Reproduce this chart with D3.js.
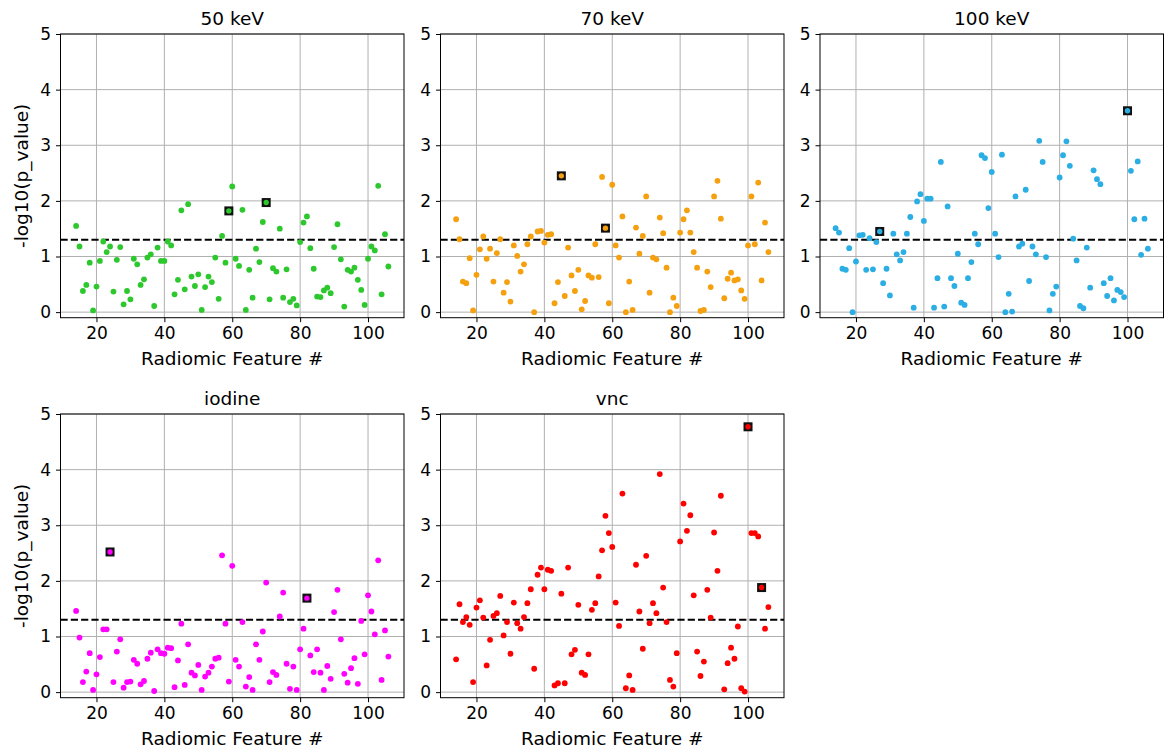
<!DOCTYPE html>
<html>
<head>
<meta charset="utf-8">
<script src="https://cdn.jsdelivr.net/npm/d3@7"></script>
<style>
  body { margin: 0; background: #fff; }
  svg { font-family: "DejaVu Sans", sans-serif; }
</style>
</head>
<body>
<div id="chart"></div>
<script>
// radiomic feature numbers (x categories)
const features = [14, 15, 16, 17, 18, 19, 20, 21, 22, 23, 24, 25, 26, 27, 28, 29, 30, 31, 32, 33,
  34, 35, 36, 37, 38, 39, 40, 41, 42, 43, 44, 45, 46, 47, 48, 49, 50, 51, 52, 53,
  54, 55, 56, 57, 58, 59, 60, 61, 62, 63, 64, 65, 66, 67, 68, 69, 70, 71, 72, 73,
  74, 75, 76, 77, 78, 79, 80, 81, 82, 83, 84, 85, 86, 87, 88, 89, 90, 91, 92, 93,
  94, 95, 96, 97, 98, 99, 100, 101, 102, 103, 104, 105, 106];

// -log10(p_value) per feature
const kev50 = [1.55, 1.18, 0.38, 0.49, 0.89, 0.03, 0.46, 0.92, 1.27, 1.08,
  1.18, 0.37, 0.94, 1.17, 0.14, 0.38, 0.23, 0.96, 0.86, 0.49,
  0.59, 0.98, 1.04, 0.11, 1.16, 0.92, 0.92, 1.27, 1.2, 0.32,
  0.58, 1.83, 0.41, 1.94, 0.64, 0.47, 0.68, 0.04, 0.45, 0.64,
  0.54, 0.98, 0.24, 1.37, 0.89, 1.82, 2.26, 0.96, 0.83, 1.84,
  0.04, 0.76, 0.26, 1.14, 0.9, 1.62, 1.97, 0.23, 0.79, 0.73,
  1.5, 0.26, 0.77, 0.18, 0.24, 0.12, 1.26, 1.61, 1.72, 1.15,
  0.78, 0.28, 0.27, 0.39, 0.44, 0.34, 1.17, 1.58, 0.95, 0.1,
  0.76, 0.73, 0.8, 0.58, 0.4, 0.13, 0.96, 1.18, 1.11, 2.27,
  0.32, 1.4, 0.82];

const kev70 = [1.67, 1.31, 0.55, 0.52, 0.97, 0.03, 0.67, 1.13, 1.36, 0.96,
  1.14, 0.55, 1.06, 1.31, 0.35, 0.54, 0.19, 1.2, 1.01, 0.73,
  0.86, 1.22, 1.36, 0.0, 1.45, 1.46, 1.25, 1.39, 1.4, 0.16,
  0.54, 2.45, 0.29, 1.16, 0.66, 0.38, 0.76, 0.05, 0.2, 0.66,
  0.62, 1.22, 0.63, 2.43, 1.51, 0.16, 2.29, 1.2, 0.98, 1.72,
  0.0, 0.55, 0.04, 1.52, 1.05, 1.37, 2.08, 0.35, 0.98, 0.95,
  1.7, 1.42, 0.8, 0.0, 0.26, 0.11, 1.43, 1.67, 1.83, 1.43,
  1.08, 0.8, 0.02, 0.04, 0.73, 0.45, 2.08, 2.36, 1.68, 0.25,
  0.6, 0.71, 0.57, 0.59, 0.39, 0.24, 1.2, 2.08, 1.22, 2.33,
  0.57, 1.61, 1.08];

const kev100 = [1.51, 1.43, 0.78, 0.76, 1.15, 0.0, 0.91, 1.38, 1.39, 0.76,
  1.33, 0.77, 1.26, 1.45, 0.52, 0.78, 0.3, 1.41, 1.04, 0.93,
  1.08, 1.41, 1.71, 0.08, 1.99, 2.12, 1.64, 2.04, 2.04, 0.08,
  0.61, 2.7, 0.1, 1.9, 0.61, 0.47, 1.05, 0.17, 0.13, 0.61,
  0.9, 1.41, 1.22, 2.82, 2.77, 1.87, 2.52, 1.41, 0.99, 2.83,
  0.0, 0.33, 0.01, 2.08, 1.18, 1.23, 2.2, 0.56, 1.18, 1.04,
  3.08, 2.7, 0.99, 0.03, 0.33, 0.46, 2.42, 2.82, 3.07, 2.63,
  1.32, 0.93, 0.11, 0.07, 1.16, 0.44, 2.55, 2.39, 2.3, 0.52,
  0.29, 0.61, 0.21, 0.4, 0.36, 0.27, 3.62, 2.54, 1.67, 2.71,
  1.03, 1.68, 1.14];

const iodine = [1.46, 0.98, 0.18, 0.37, 0.7, 0.04, 0.32, 0.63, 1.13, 1.13,
  2.52, 0.18, 0.73, 0.95, 0.08, 0.18, 0.19, 0.58, 0.51, 0.14,
  0.2, 0.6, 0.71, 0.02, 0.77, 0.7, 0.69, 0.8, 0.79, 0.09,
  0.57, 1.23, 0.13, 0.86, 0.35, 0.3, 0.49, 0.04, 0.28, 0.35,
  0.46, 0.6, 0.62, 2.46, 1.23, 0.19, 2.27, 0.58, 0.46, 1.26,
  0.1, 0.27, 0.04, 0.86, 0.58, 1.09, 1.97, 0.18, 0.36, 0.31,
  1.36, 1.79, 0.51, 0.06, 0.46, 0.04, 0.77, 1.14, 1.69, 0.66,
  0.36, 0.77, 0.35, 0.04, 0.47, 0.24, 1.44, 1.84, 0.95, 0.33,
  0.17, 0.43, 0.61, 0.15, 1.28, 0.68, 1.74, 1.45, 1.04, 2.37,
  0.22, 1.11, 0.64];

const vnc = [0.59, 1.58, 1.26, 1.35, 1.21, 0.18, 1.52, 1.65, 1.34, 0.48,
  0.94, 1.37, 1.42, 1.73, 1.02, 1.26, 0.69, 1.61, 1.24, 1.14,
  1.35, 1.6, 1.85, 0.42, 2.11, 2.24, 1.85, 2.2, 2.18, 0.12,
  0.16, 1.77, 0.16, 2.24, 0.68, 0.76, 1.57, 0.35, 0.31, 0.68,
  1.48, 1.6, 2.08, 2.55, 3.17, 2.86, 2.61, 1.61, 1.19, 3.57,
  0.07, 0.3, 0.04, 2.29, 1.45, 0.78, 2.45, 1.24, 1.6, 1.42,
  3.92, 1.88, 1.26, 0.22, 0.1, 0.7, 2.71, 3.39, 2.9, 3.18,
  1.74, 0.73, 0.29, 0.55, 1.84, 1.34, 2.87, 2.18, 3.53, 0.05,
  0.52, 0.8, 0.6, 1.18, 0.07, 0.01, 4.77, 2.86, 2.86, 2.8,
  1.88, 1.14, 1.53];

// features highlighted with a black square
const marked50 = [59, 70];
const marked70 = [45, 58];
const marked100 = [27, 100];
const markedIodine = [24, 82];
const markedVnc = [100, 104];

const titles = ["50 keV", "70 keV", "100 keV", "iodine", "vnc"];
const xTicks = [20, 40, 60, 80, 100];
const yTicks = [0, 1, 2, 3, 4, 5];
const threshold = 1.3;

var panels = [
  { title: titles[0], values: kev50, marked: marked50, color: "#2dc82d", row: 0, col: 0 },
  { title: titles[1], values: kev70, marked: marked70, color: "#f5a00f", row: 0, col: 1 },
  { title: titles[2], values: kev100, marked: marked100, color: "#2aaee3", row: 0, col: 2 },
  { title: titles[3], values: iodine, marked: markedIodine, color: "#ff00ff", row: 1, col: 0 },
  { title: titles[4], values: vnc, marked: markedVnc, color: "#ff0000", row: 1, col: 1 }
];

var W = 1164, H = 754;
var colLeft = [60.5, 440.5, 820], rowTop = [34, 414];
var pw = 343.5, ph = 283.7;

var svg = d3.select("#chart").append("svg")
  .attr("width", W).attr("height", H);

// same limits as matplotlib would pick (5% margin on x)
var x = d3.scaleLinear().domain([9.4, 110.6]).range([0, pw]);
var y = d3.scaleLinear().domain([-0.1, 5]).range([ph, 0]);

panels.forEach(function (p) {
  var g = svg.append("g")
    .attr("transform", `translate(${colLeft[p.col]},${rowTop[p.row]})`);

  // grid
  g.selectAll(".vgrid").data(xTicks).enter().append("line")
    .attr("x1", d => x(d)).attr("x2", d => x(d))
    .attr("y1", 0).attr("y2", ph)
    .style("stroke", "#b0b0b0").style("stroke-width", 1);
  g.selectAll(".hgrid").data(yTicks).enter().append("line")
    .attr("x1", 0).attr("x2", pw)
    .attr("y1", d => y(d)).attr("y2", d => y(d))
    .style("stroke", "#b0b0b0").style("stroke-width", 1);

  // significance threshold
  g.append("line")
    .attr("x1", 0).attr("x2", pw)
    .attr("y1", y(threshold)).attr("y2", y(threshold))
    .style("stroke", "#000").style("stroke-width", 2)
    .style("stroke-dasharray", "7.2,3.1");

  var pts = features.map((f, i) => ({ f: f, v: p.values[i] }));

  g.selectAll(".dot").data(pts).enter().append("circle")
    .attr("cx", d => x(d.f)).attr("cy", d => y(d.v))
    .attr("r", 2.9)
    .style("fill", p.color);

  // highlighted features
  var hl = pts.filter(d => p.marked.indexOf(d.f) >= 0);
  g.selectAll(".sq").data(hl).enter().append("rect")
    .attr("x", d => x(d.f) - 4.5).attr("y", d => y(d.v) - 4.5)
    .attr("width", 9).attr("height", 9)
    .style("fill", "#111");
  g.selectAll(".sqdot").data(hl).enter().append("circle")
    .attr("cx", d => x(d.f)).attr("cy", d => y(d.v))
    .attr("r", 2.7)
    .style("fill", p.color);

  // axes
  var xAxis = d3.axisBottom(x).tickValues(xTicks).tickSize(4.5).tickPadding(5);
  var yAxis = d3.axisLeft(y).tickValues(yTicks).tickFormat(d3.format("d"))
    .tickSize(4.5).tickPadding(5);

  var gx = g.append("g").attr("transform", `translate(0,${ph})`).call(xAxis);
  var gy = g.append("g").call(yAxis);
  [gx, gy].forEach(function (a) {
    a.select(".domain").remove();
    a.selectAll("line").style("stroke", "#000").style("stroke-width", 1);
    a.selectAll("text").style("font-size", "17px").style("fill", "#000")
      .style("font-family", "DejaVu Sans");
  });

  // frame
  g.append("rect")
    .attr("width", pw).attr("height", ph)
    .style("fill", "none").style("stroke", "#000").style("stroke-width", 1);

  g.append("text")
    .attr("x", pw / 2).attr("y", -9.5)
    .attr("text-anchor", "middle")
    .style("font-size", "18.5px")
    .text(p.title);

  g.append("text")
    .attr("x", pw / 2).attr("y", ph + 47)
    .attr("text-anchor", "middle")
    .style("font-size", "18.5px")
    .text("Radiomic Feature #");

  if (p.col === 0) {
    g.append("text")
      .attr("transform", `translate(${22 - colLeft[p.col]},${ph / 2}) rotate(-90)`)
      .attr("text-anchor", "middle")
      .attr("dy", "0.35em")
      .style("font-size", "18.5px")
      .text("-log10(p_value)");
  }
});
</script>
</body>
</html>
